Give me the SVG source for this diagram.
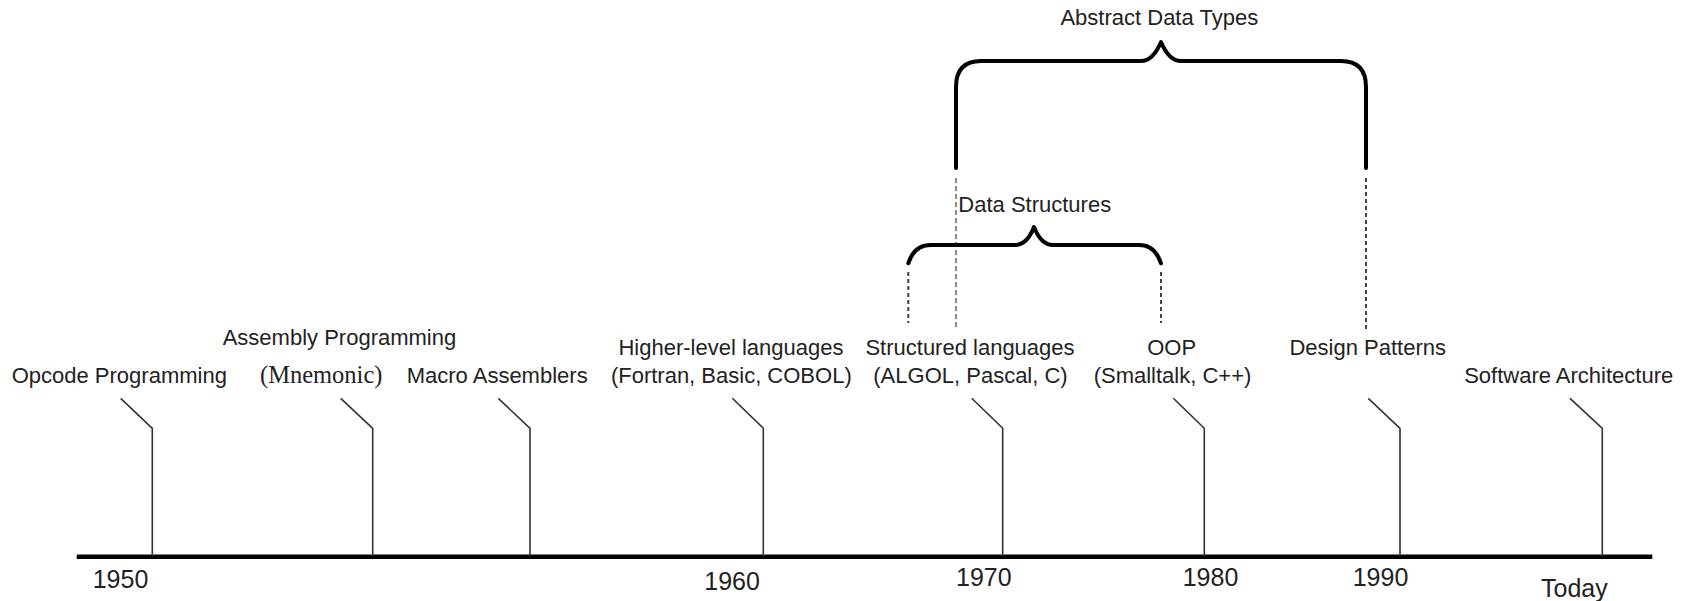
<svg xmlns="http://www.w3.org/2000/svg" width="1692" height="601" viewBox="0 0 1692 601">
<style>
  text { font-family: "Liberation Sans", Arial, sans-serif; font-size: 22px; fill: #222; }
  .yr { font-size: 25px; }
  .serif { font-family: "Liberation Serif", "Times New Roman", serif; font-size: 24.5px; }
  .mid { text-anchor: middle; }
  .tick { fill: none; stroke: #333; stroke-width: 1.6; }
  .axis { stroke: #000; stroke-width: 4.5; }
  .brace { fill: none; stroke: #000; stroke-width: 4; stroke-linecap: round; stroke-linejoin: round; }
  .dash { stroke: #444; stroke-width: 2; stroke-dasharray: 4 3; }
  .dash-thin { stroke: #444; stroke-width: 1.2; stroke-dasharray: 5 3; }
</style>
<rect width="1692" height="601" fill="#fff"/>

<g id="connectors">
  <line id="axis" class="axis" x1="76.7" y1="556.7" x2="1652.3" y2="556.7"/>
  <path class="tick" d="M120.7,398.3 L152.3,428.3 L152.3,556"/>
  <path class="tick" d="M340.7,398.3 L372.7,428.3 L372.7,556"/>
  <path class="tick" d="M498.3,398.3 L530,428.3 L530,556"/>
  <path class="tick" d="M732.3,398.3 L763.3,428.3 L763.3,556"/>
  <path class="tick" d="M971.7,398.3 L1002.7,428.3 L1002.7,556"/>
  <path class="tick" d="M1173.3,398.3 L1204.3,428.3 L1204.3,556"/>
  <path class="tick" d="M1368.3,398.3 L1400,428.3 L1400,556"/>
  <path class="tick" d="M1570,398.3 L1602.3,428.3 L1602.3,556"/>
  <line class="dash-thin" x1="956" y1="178" x2="956" y2="330"/>
  <line class="dash" x1="1366" y1="178" x2="1366" y2="330"/>
  <line class="dash" x1="908.3" y1="272" x2="908.3" y2="323"/>
  <line class="dash" x1="1161" y1="272" x2="1161" y2="323"/>
</g>

<g id="brace-adt">
  <path class="brace" d="M956,168 L956,87 Q956,61 981,61 L1141,61 Q1153,61 1161,42 Q1169,61 1181,61 L1341,61 Q1366,61 1366,87 L1366,168"/>
  <text class="mid" x="1159.3" y="25">Abstract Data Types</text>
</g>

<g id="brace-ds">
  <path class="brace" d="M908.3,263.3 Q914,245 931,245 L1015,245 Q1027,245 1034,227 Q1041,245 1053,245 L1139,245 Q1155,245 1161,263.3"/>
  <text x="958.3" y="211.7">Data Structures</text>
</g>

<g id="node-opcode">
  <text x="11.7" y="383.3">Opcode Programming</text>
</g>
<g id="node-assembly">
  <text x="222.7" y="345">Assembly Programming</text>
  <text class="serif" x="260" y="383.3">(Mnemonic)</text>
</g>
<g id="node-macro">
  <text x="406.7" y="383.3">Macro Assemblers</text>
</g>
<g id="node-higher">
  <text class="mid" x="731" y="355">Higher-level languages</text>
  <text class="mid" x="731.3" y="383.3">(Fortran, Basic, COBOL)</text>
</g>
<g id="node-structured">
  <text class="mid" x="970" y="355">Structured languages</text>
  <text class="mid" x="970.5" y="383.3">(ALGOL, Pascal, C)</text>
</g>
<g id="node-oop">
  <text class="mid" x="1171.7" y="355">OOP</text>
  <text class="mid" x="1172.5" y="383.3">(Smalltalk, C++)</text>
</g>
<g id="node-patterns">
  <text class="mid" x="1367.7" y="355">Design Patterns</text>
</g>
<g id="node-architecture">
  <text class="mid" x="1568.7" y="383.3">Software Architecture</text>
</g>

<g id="years">
  <text class="yr" x="92.7" y="588.3">1950</text>
  <text class="yr" x="704.3" y="590">1960</text>
  <text class="yr" x="956" y="585.7">1970</text>
  <text class="yr" x="1182.7" y="585.7">1980</text>
  <text class="yr" x="1352.7" y="585.7">1990</text>
  <text class="yr" x="1541" y="596.7">Today</text>
</g>
</svg>
